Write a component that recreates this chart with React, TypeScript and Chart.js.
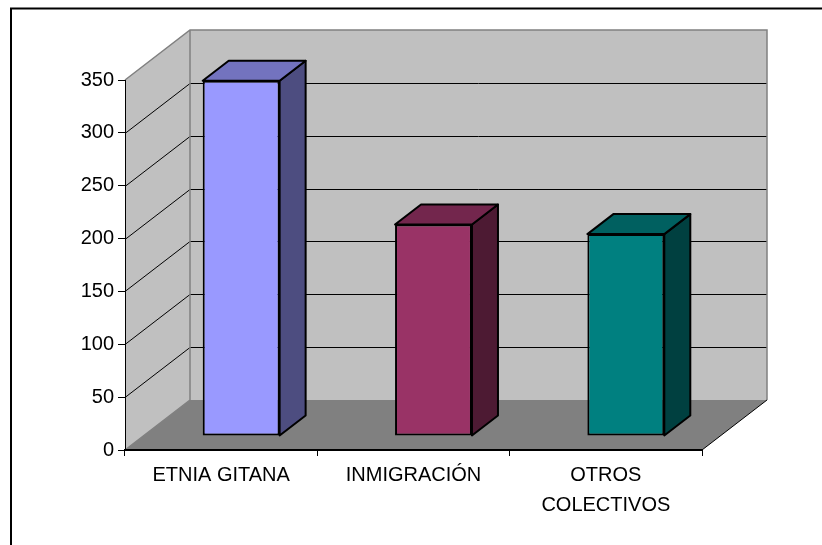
import React, { useEffect, useRef } from "react";
import { Chart, registerables } from "chart.js";

Chart.register(...registerables);

const categories: (string | string[])[] = ["ETNIA GITANA", "INMIGRACIÓN", ["OTROS", "COLECTIVOS"]];
const values = [336, 200, 191];
const frontColors = ["#9999ff", "#993366", "#008080"];
const topColors = ["#7373bf", "#73264d", "#006060"];
const sideColors = ["#4d4d80", "#4d1a33", "#004040"];

const WALL_DX = 65;
const WALL_DY = -50;
const BAR_DX = 20;
const BAR_DY = -14;
const DEPTH_DX = 26;
const DEPTH_DY = -20;

function poly(ctx: CanvasRenderingContext2D, pts: number[][], fill: string | null, stroke: string | null, lw = 1) {
  ctx.beginPath();
  pts.forEach((p, i) => (i ? ctx.lineTo(p[0], p[1]) : ctx.moveTo(p[0], p[1])));
  if (fill) {
    ctx.closePath();
    ctx.fillStyle = fill;
    ctx.fill();
  }
  if (stroke) {
    ctx.strokeStyle = stroke;
    ctx.lineWidth = lw;
    ctx.lineJoin = "round";
    ctx.stroke();
  }
}

const box3d = {
  id: "box3d",
  beforeDraw(chart: any) {
    const { ctx, chartArea: a, scales } = chart;
    const { left: l, right: r, top: t, bottom: b } = a;
    const bl = l + WALL_DX, br = r + WALL_DX, bt = t + WALL_DY, bb = b + WALL_DY;
    ctx.save();
    ctx.fillStyle = "#ffffff";
    ctx.fillRect(0, 0, chart.width, chart.height);
    // frame
    ctx.strokeStyle = "#000000";
    ctx.lineWidth = 2;
    ctx.beginPath();
    ctx.moveTo(11, chart.height);
    ctx.lineTo(11, 8.5);
    ctx.lineTo(chart.width, 8.5);
    ctx.stroke();
    // walls and floor
    poly(ctx, [[l, t], [bl, bt], [bl, bb], [l, b]], "#c0c0c0", null);
    poly(ctx, [[bl, bt], [br, bt], [br, bb], [bl, bb]], "#c0c0c0", null);
    poly(ctx, [[l, b], [bl, bb], [br, bb], [r, b]], "#808080", null);
    // gridlines
    ctx.strokeStyle = "#000000";
    ctx.lineWidth = 1;
    for (const tick of scales.y.ticks) {
      if (tick.value === scales.y.min || tick.value === scales.y.max) continue;
      const y = Math.round(scales.y.getPixelForValue(tick.value)) + 0.5;
      ctx.beginPath();
      ctx.moveTo(l, y);
      ctx.lineTo(bl, y + WALL_DY);
      ctx.lineTo(br, y + WALL_DY);
      ctx.stroke();
    }
    // wall outlines
    ctx.strokeStyle = "#808080";
    ctx.lineWidth = 1.5;
    ctx.beginPath();
    ctx.moveTo(l, t);
    ctx.lineTo(bl, bt);
    ctx.lineTo(br, bt);
    ctx.lineTo(br, bb);
    ctx.moveTo(bl, bt);
    ctx.lineTo(bl, bb);
    ctx.lineTo(l, b);
    ctx.stroke();
    // floor front-right edge
    ctx.strokeStyle = "#000000";
    ctx.lineWidth = 1;
    ctx.beginPath();
    ctx.moveTo(r, b);
    ctx.lineTo(br, bb);
    ctx.stroke();
    ctx.restore();
  },
  beforeDatasetsDraw(chart: any) {
    const { ctx } = chart;
    ctx.save();
    ctx.translate(BAR_DX, BAR_DY);
    chart.getDatasetMeta(0).data.forEach((el: any, i: number) => {
      const x0 = el.x - el.width / 2;
      const x1 = el.x + el.width / 2;
      const yT = el.y;
      const yB = el.base;
      poly(ctx, [[x1, yT], [x1 + DEPTH_DX, yT + DEPTH_DY], [x1 + DEPTH_DX, yB + DEPTH_DY], [x1, yB]], sideColors[i], "#000000", 2);
      poly(ctx, [[x0, yT], [x0 + DEPTH_DX, yT + DEPTH_DY], [x1 + DEPTH_DX, yT + DEPTH_DY], [x1, yT]], topColors[i], "#000000", 2);
    });
  },
  afterDatasetsDraw(chart: any) {
    chart.ctx.restore();
  },
};

export default function App() {
  const ref = useRef<HTMLCanvasElement>(null);
  useEffect(() => {
    const chart = new Chart(ref.current!, {
      type: "bar",
      data: {
        labels: categories as any,
        datasets: [
          {
            data: values,
            backgroundColor: frontColors,
            borderColor: "#000000",
            borderWidth: 2,
            borderSkipped: false,
            barPercentage: 0.4,
            categoryPercentage: 1,
            clip: false as any,
          },
        ],
      },
      options: {
        responsive: false,
        animation: false,
        devicePixelRatio: 1,
        layout: { padding: { left: 0, right: 120, top: 80, bottom: 0 } },
        plugins: { legend: { display: false }, tooltip: { enabled: false }, title: { display: false } },
        scales: {
          x: {
            afterFit(s: any) { s.height = 95; },
            border: { color: "#000000", width: 2 },
            grid: { drawOnChartArea: false, drawTicks: true, tickLength: 6, tickColor: "#000000", tickWidth: 1 },
            ticks: {
              color: "#000000",
              padding: 4,
              maxRotation: 0,
              autoSkip: false,
              font: { family: "'Liberation Sans'", size: 20, lineHeight: 1.5 },
            },
          },
          y: {
            min: 0,
            max: 350,
            afterFit(s: any) { s.width = 125; },
            border: { color: "#000000", width: 1 },
            grid: { drawOnChartArea: false, drawTicks: true, tickLength: 7, tickColor: "#000000", tickWidth: 1 },
            ticks: {
              stepSize: 50,
              color: "#000000",
              padding: 4,
              font: { family: "'Liberation Sans'", size: 20 },
            },
          },
        },
      },
      plugins: [box3d],
    });
    return () => chart.destroy();
  }, []);
  return (
    <div style={{ position: "absolute", left: 0, top: 0, width: 822, height: 545, overflow: "hidden" }}>
      <canvas ref={ref} width={822} height={545} style={{ display: "block" }} />
    </div>
  );
}
